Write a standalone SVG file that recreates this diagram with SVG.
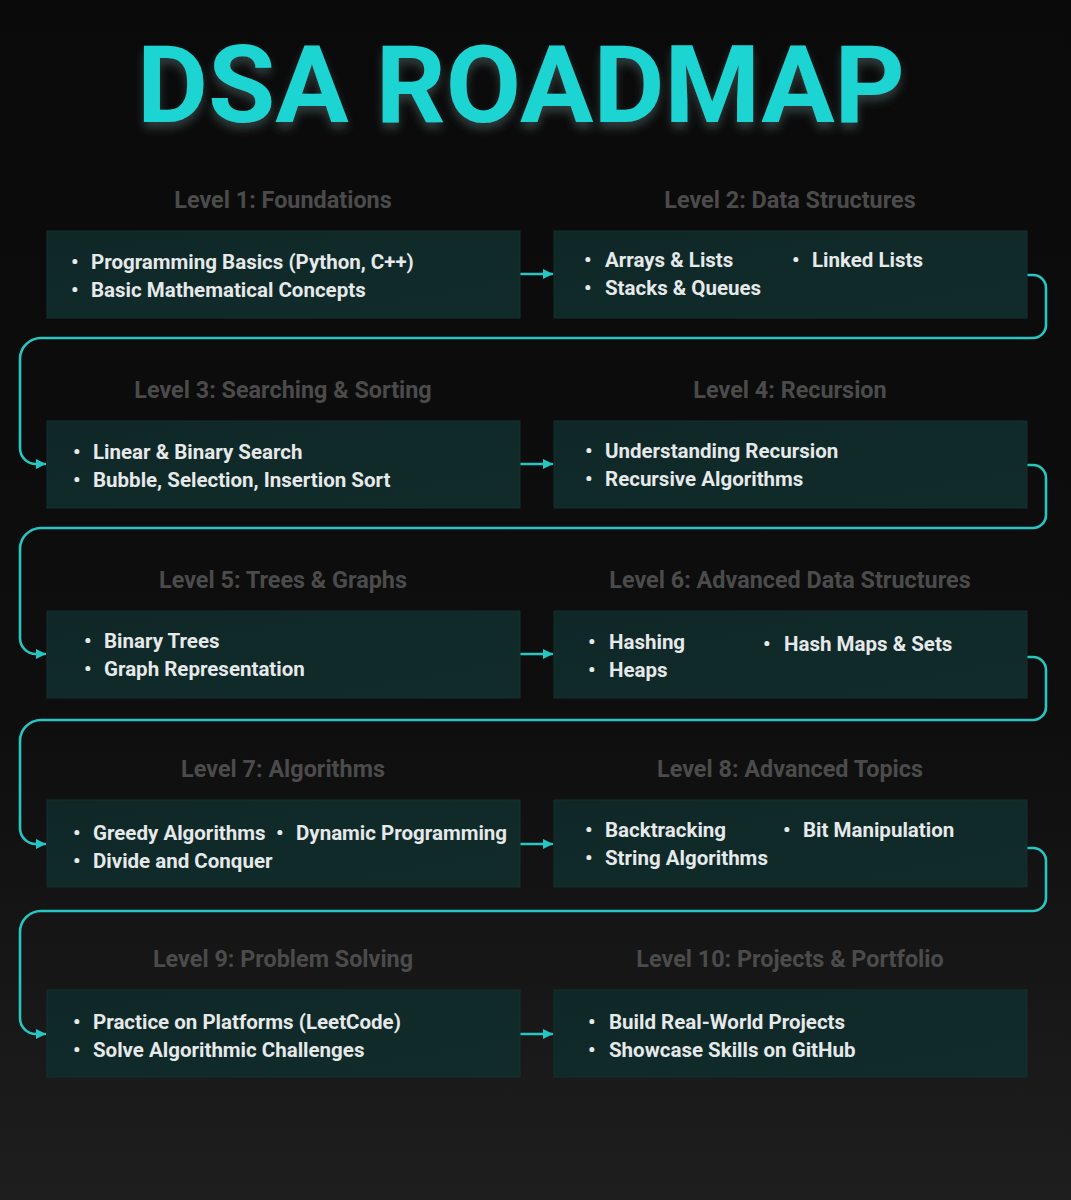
<svg xmlns="http://www.w3.org/2000/svg" width="1071" height="1200" viewBox="0 0 1071 1200">
<defs>
<linearGradient id="bg" x1="0" y1="0" x2="0" y2="1">
<stop offset="0" stop-color="#0a0a0a"/>
<stop offset="0.6" stop-color="#0e0e0e"/>
<stop offset="1" stop-color="#1e1e1e"/>
</linearGradient>
<linearGradient id="boxg" x1="0" y1="0" x2="1" y2="1">
<stop offset="0" stop-color="#0f2727"/>
<stop offset="1" stop-color="#112b2b"/>
</linearGradient>
<filter id="glow" x="-10%" y="-30%" width="120%" height="170%">
<feGaussianBlur in="SourceAlpha" stdDeviation="5"/>
<feOffset dx="0" dy="6" result="b"/>
<feFlood flood-color="#3a4a4a" flood-opacity="0.8"/>
<feComposite in2="b" operator="in" result="s"/>
<feMerge><feMergeNode in="s"/><feMergeNode in="SourceGraphic"/></feMerge>
</filter>
<marker id="arr" viewBox="0 0 10 10" refX="9" refY="5" markerWidth="4" markerHeight="4" orient="auto" markerUnits="strokeWidth">
<path d="M0,0 L10,5 L0,10 Z" fill="#27c6c2"/>
</marker>
<style>
.title{font-family:Roboto,"Liberation Sans",sans-serif;font-weight:700;font-size:108px;fill:#1fd4d2}
.head{font-family:Roboto,"Liberation Sans",sans-serif;font-weight:700;font-size:23.4px;fill:#4b4b4b;text-anchor:middle}
.item{font-family:Roboto,"Liberation Sans",sans-serif;font-weight:700;font-size:20.5px;fill:#e6e9e9}
.bul{font-family:Roboto,"Liberation Sans",sans-serif;font-weight:700;font-size:21px;fill:#e6e9e9}
.box{fill:url(#boxg);stroke:#153131;stroke-width:1}
.con{fill:none;stroke:#27c6c2;stroke-width:2.6;stroke-linecap:round;stroke-linejoin:round}
</style>
</defs>
<rect width="1071" height="1200" fill="url(#bg)"/>
<text class="title" x="137" y="122" textLength="768" lengthAdjust="spacingAndGlyphs" filter="url(#glow)">DSA ROADMAP</text>

<g id="connectors">
<path class="con" d="M521,274 H552" marker-end="url(#arr)"/>
<path class="con" d="M521,464 H552" marker-end="url(#arr)"/>
<path class="con" d="M521,654 H552" marker-end="url(#arr)"/>
<path class="con" d="M521,844 H552" marker-end="url(#arr)"/>
<path class="con" d="M521,1034 H552" marker-end="url(#arr)"/>
<path class="con" d="M1028,275 H1033 A13,13 0 0 1 1046,288 V325 A13,13 0 0 1 1033,338 H41 A21,21 0 0 0 20,359 V448 A16,16 0 0 0 36,464 H45" marker-end="url(#arr)"/>
<path class="con" d="M1028,465 H1033 A13,13 0 0 1 1046,478 V515 A13,13 0 0 1 1033,528 H41 A21,21 0 0 0 20,549 V638 A16,16 0 0 0 36,654 H45" marker-end="url(#arr)"/>
<path class="con" d="M1028,657 H1033 A13,13 0 0 1 1046,670 V707 A13,13 0 0 1 1033,720 H41 A21,21 0 0 0 20,741 V828 A16,16 0 0 0 36,844 H45" marker-end="url(#arr)"/>
<path class="con" d="M1028,848 H1033 A13,13 0 0 1 1046,861 V898 A13,13 0 0 1 1033,911 H41 A21,21 0 0 0 20,932 V1018 A16,16 0 0 0 36,1034 H45" marker-end="url(#arr)"/>
</g>

<g id="level1">
<text class="head" x="283" y="208">Level 1: Foundations</text>
<rect class="box" x="47" y="231" width="473" height="87"/>
<text class="bul" x="71" y="269">•</text><text class="item" x="91" y="269">Programming Basics (Python, C++)</text>
<text class="bul" x="71" y="297">•</text><text class="item" x="91" y="297">Basic Mathematical Concepts</text>
</g>
<g id="level2">
<text class="head" x="790" y="208">Level 2: Data Structures</text>
<rect class="box" x="554" y="231" width="473" height="87"/>
<text class="bul" x="584" y="267">•</text><text class="item" x="605" y="267">Arrays &amp; Lists</text>
<text class="bul" x="584" y="295">•</text><text class="item" x="605" y="295">Stacks &amp; Queues</text>
<text class="bul" x="792" y="267">•</text><text class="item" x="812" y="267">Linked Lists</text>
</g>
<g id="level3">
<text class="head" x="283" y="398">Level 3: Searching &amp; Sorting</text>
<rect class="box" x="47" y="421" width="473" height="87"/>
<text class="bul" x="73" y="459">•</text><text class="item" x="93" y="459">Linear &amp; Binary Search</text>
<text class="bul" x="73" y="487">•</text><text class="item" x="93" y="487">Bubble, Selection, Insertion Sort</text>
</g>
<g id="level4">
<text class="head" x="790" y="398">Level 4: Recursion</text>
<rect class="box" x="554" y="421" width="473" height="87"/>
<text class="bul" x="585" y="458">•</text><text class="item" x="605" y="458">Understanding Recursion</text>
<text class="bul" x="585" y="486">•</text><text class="item" x="605" y="486">Recursive Algorithms</text>
</g>
<g id="level5">
<text class="head" x="283" y="588">Level 5: Trees &amp; Graphs</text>
<rect class="box" x="47" y="611" width="473" height="87"/>
<text class="bul" x="84" y="648">•</text><text class="item" x="104" y="648">Binary Trees</text>
<text class="bul" x="84" y="676">•</text><text class="item" x="104" y="676">Graph Representation</text>
</g>
<g id="level6">
<text class="head" x="790" y="588">Level 6: Advanced Data Structures</text>
<rect class="box" x="554" y="611" width="473" height="87"/>
<text class="bul" x="588" y="649">•</text><text class="item" x="609" y="649">Hashing</text>
<text class="bul" x="588" y="677">•</text><text class="item" x="609" y="677">Heaps</text>
<text class="bul" x="763" y="651">•</text><text class="item" x="784" y="651">Hash Maps &amp; Sets</text>
</g>
<g id="level7">
<text class="head" x="283" y="777">Level 7: Algorithms</text>
<rect class="box" x="47" y="800" width="473" height="87"/>
<text class="bul" x="73" y="840">•</text><text class="item" x="93" y="840">Greedy Algorithms</text>
<text class="bul" x="73" y="868">•</text><text class="item" x="93" y="868">Divide and Conquer</text>
<text class="bul" x="276" y="840">•</text><text class="item" x="296" y="840">Dynamic Programming</text>
</g>
<g id="level8">
<text class="head" x="790" y="777">Level 8: Advanced Topics</text>
<rect class="box" x="554" y="800" width="473" height="87"/>
<text class="bul" x="585" y="837">•</text><text class="item" x="605" y="837">Backtracking</text>
<text class="bul" x="585" y="865">•</text><text class="item" x="605" y="865">String Algorithms</text>
<text class="bul" x="783" y="837">•</text><text class="item" x="803" y="837">Bit Manipulation</text>
</g>
<g id="level9">
<text class="head" x="283" y="967">Level 9: Problem Solving</text>
<rect class="box" x="47" y="990" width="473" height="87"/>
<text class="bul" x="73" y="1029">•</text><text class="item" x="93" y="1029">Practice on Platforms (LeetCode)</text>
<text class="bul" x="73" y="1057">•</text><text class="item" x="93" y="1057">Solve Algorithmic Challenges</text>
</g>
<g id="level10">
<text class="head" x="790" y="967">Level 10: Projects &amp; Portfolio</text>
<rect class="box" x="554" y="990" width="473" height="87"/>
<text class="bul" x="588" y="1029">•</text><text class="item" x="609" y="1029">Build Real-World Projects</text>
<text class="bul" x="588" y="1057">•</text><text class="item" x="609" y="1057">Showcase Skills on GitHub</text>
</g>
</svg>
